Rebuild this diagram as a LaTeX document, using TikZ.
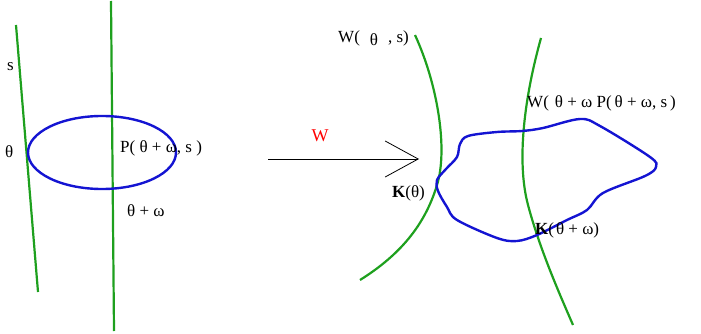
\documentclass[tikz,border=0pt]{standalone}
\usepackage{fontspec}
\setmainfont{Liberation Serif}
\usetikzlibrary{arrows.meta,shapes.geometric}
\begin{document}
\begin{tikzpicture}[x=1pt,y=-1pt,
  green line/.style={draw={rgb,255:red,30;green,160;blue,30},line width=2.2pt},
  blue line/.style={draw={rgb,255:red,20;green,20;blue,210},line width=2.4pt},
  lbl/.style={inner sep=0pt,anchor=west,font=\fontsize{17}{20}\selectfont},
  every node/.style={inner sep=0pt}]
\useasboundingbox (0,0) rectangle (701,334);
% left panel
\coordinate (s1) at (16,25); \coordinate (s2) at (38,292);
\coordinate (v1) at (111,1); \coordinate (v2) at (114,331);
\draw[green line] (s1) -- (s2);
\draw[green line] (v1) -- (v2);
\node[blue line,draw,ellipse,minimum width=148pt,minimum height=73pt] (ell) at (102,152.5) {};
\node[lbl] (ls) at (7,67) {s};
\node[lbl] (lth) at (5,152) {θ};
\node[lbl] (lP) at (120,148) {P( θ + ω, s )};
\node[lbl] (lto) at (127,211) {θ + ω};
% arrow W
\coordinate (a1) at (268,159); \coordinate (a2) at (419,159);
\draw[line width=0.8pt,-{Straight Barb[length=33pt,width=36pt,line width=0.8pt]}] (a1) -- (a2);
\node[font=\fontsize{18}{20}\selectfont,text=red] (lW) at (320,136) {W};
% right panel: green curves
\coordinate (g1a) at (415,35); \coordinate (g1b) at (360,280);
\draw[green line] (g1a) .. controls (438,85) and (448,150) .. (437,185)
  .. controls (425,225) and (400,255) .. (g1b);
\coordinate (g2a) at (541,38); \coordinate (g2b) at (573,325);
\draw[green line] (g2a) .. controls (525,95) and (516,160) .. (528,205)
  .. controls (540,250) and (560,295) .. (g2b);
% blue closed curve
\draw[blue line] plot[smooth cycle,tension=0.55] coordinates {
 (437,180) (446,169) (457,157) (460,144) (468,136) (497,132) (522,131)
 (543,128) (580,119) (600,126) (650,157) (656,167) (645,176) (603,193)
 (587,210) (567,220) (537,235) (517,241) (497,238) (457,220) (447,207) (438,191)};
\node[lbl] (lW1) at (338,38) {W(\hspace{10pt}\raisebox{-3pt}{θ}\hspace{10pt}, s)};
\node[lbl] (lK1) at (392,193) {\textbf{K}(θ)};
\node[lbl] (lW2) at (527,103) {W(\hspace{6pt}θ + ω P(\hspace{3pt}θ + ω, s\hspace{3pt})};
\node[lbl] (lK2) at (535,230) {\textbf{K}(\hspace{2pt}θ + ω)};
\end{tikzpicture}
\end{document}
